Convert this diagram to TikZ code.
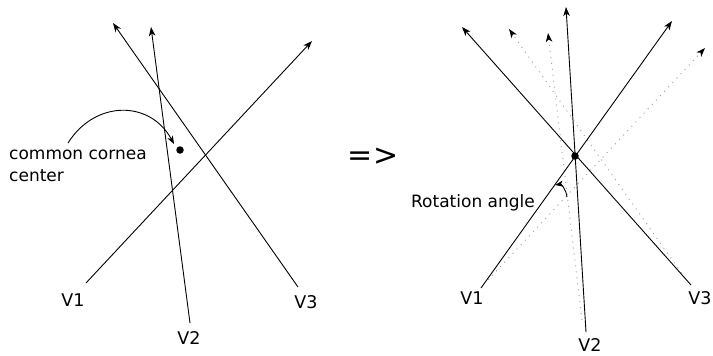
\documentclass[tikz,border=0pt]{standalone}
\usepackage{fontspec}
\setmainfont{DejaVu Sans}
\usetikzlibrary{arrows.meta}

\begin{document}
\begin{tikzpicture}[
  x=1pt, y=-1pt,
  ray/.style     = {line width=0.9pt, -{Stealth[length=9pt,width=6.5pt,inset=2.5pt]}},
  oldray/.style  = {line width=1pt, gray!70, dash pattern=on 1pt off 5pt,
                    -{Stealth[length=9pt,width=6.5pt,inset=2.5pt,black]}},
  pointer/.style = {line width=0.9pt, -{Stealth[length=8pt,width=6pt,inset=2pt]}},
  centre/.style  = {circle, fill, inner sep=0pt, minimum size=7.5pt},
  vlbl/.style    = {font=\fontsize{17.5}{20}\selectfont, inner sep=0pt},
  note/.style    = {font=\fontsize{17}{22}\selectfont, inner sep=0pt, align=left},
]
  \useasboundingbox (0,0) rectangle (713,356);

  % left: three rays that miss each other
  \coordinate (a1) at (86,283);   \coordinate (b1) at (312,41);
  \coordinate (a2) at (190,323);  \coordinate (b2) at (151,27);
  \coordinate (a3) at (298,287);  \coordinate (b3) at (113,23);
  \draw[ray] (a1) -- (b1);
  \draw[ray] (a2) -- (b2);
  \draw[ray] (a3) -- (b3);

  \node[vlbl] (v1) at (73,300)  {V1};
  \node[vlbl] (v2) at (189,338) {V2};
  \node[vlbl] (v3) at (306,302) {V3};

  \node[centre] (cc) at (180,150) {};
  \node[note, anchor=west] (cctext) at (9,166) {common cornea\\center};
  \coordinate (cstart) at (68,143);
  \draw[pointer] (cstart) .. controls (95,100) and (150,100) .. ([shift={(-6,-6)}]cc.center);

  \node (implies) at (373,157) {\fontsize{30}{30}\selectfont =>};

  % right: rays rotated onto one point, old ones dotted
  \coordinate (d1) at (488,280);  \coordinate (e1) at (705,48);
  \coordinate (d2) at (582,320);  \coordinate (e2) at (548,33);
  \coordinate (d3) at (685,278);  \coordinate (e3) at (509,29);
  \draw[oldray] (d1) -- (e1);
  \draw[oldray] (d2) -- (e2);
  \draw[oldray] (d3) -- (e3);

  \coordinate (f1) at (481,288);  \coordinate (g1) at (672,21);
  \coordinate (f2) at (586,332);  \coordinate (g2) at (566,7);
  \coordinate (f3) at (691,285);  \coordinate (g3) at (462,27);
  \draw[ray] (f1) -- (g1);
  \draw[ray] (f2) -- (g2);
  \draw[ray] (f3) -- (g3);

  \node[centre] (rc) at (575,156) {};

  \node[vlbl] (w1) at (472,298) {V1};
  \node[vlbl] (w2) at (590,345) {V2};
  \node[vlbl] (w3) at (700,298) {V3};

  \node[note] (rot) at (473,203) {Rotation angle};
  \coordinate (rstart) at (567,197);
  \coordinate (rend)   at (555,185);
  \draw[pointer] (rstart) .. controls (566,189) and (561,184) .. (rend);
\end{tikzpicture}
\end{document}
